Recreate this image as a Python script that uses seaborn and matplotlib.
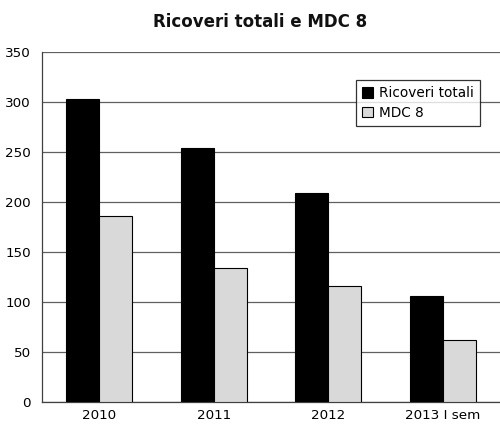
import matplotlib
matplotlib.use("Agg")
import matplotlib.pyplot as plt
import seaborn as sns
import pandas as pd
from matplotlib.patches import Patch

periodi = ["2010", "2011", "2012", "2013 I sem"]
ricoveri_totali = [303, 254, 209, 106]
mdc_8 = [186, 134, 116, 62]
serie = ["Ricoveri totali", "MDC 8"]
colori = ["#000000", "#d9d9d9"]
yticks = [0, 50, 100, 150, 200, 250, 300, 350]

df = pd.DataFrame({
    "periodo": periodi * 2,
    "valore": ricoveri_totali + mdc_8,
    "serie": [serie[0]] * len(periodi) + [serie[1]] * len(periodi),
})

sns.set_theme(style="white")
plt.rcParams["font.family"] = ["DejaVu Sans"]

fig = plt.figure(figsize=(5.0, 4.26), dpi=100)
ax = fig.add_axes([0.084, 0.056, 0.916, 0.822])

sns.barplot(data=df, x="periodo", y="valore", hue="serie", hue_order=serie,
            palette=colori, width=0.58, edgecolor="black", linewidth=0.8,
            ax=ax, legend=False, zorder=3)

ax.set_ylim(0, 350)
ax.set_xlim(-0.5, 3.5)
ax.set_yticks(yticks)
ax.set_yticklabels([str(t) for t in yticks], fontsize=9.7, color="black")
ax.set_xticks([0, 1, 2, 3])
ax.set_xticklabels(periodi, fontsize=9.7, color="black")
ax.set_xticks([0.5, 1.5, 2.5], minor=True)
ax.tick_params(axis="x", which="major", length=0, pad=5)
ax.tick_params(axis="x", which="minor", length=5, width=0.8, color="#404040", direction="out")
ax.tick_params(axis="y", length=5, width=0.8, color="#404040", direction="out", pad=3)
ax.set_xlabel("")
ax.set_ylabel("")

ax.yaxis.grid(True, color="#606060", linewidth=0.9, zorder=0)
ax.set_axisbelow(True)
for side in ["top", "right"]:
    ax.spines[side].set_visible(False)
for side in ["left", "bottom"]:
    ax.spines[side].set_color("#404040")
    ax.spines[side].set_linewidth(0.9)

handles = [Patch(facecolor=c, edgecolor="black", linewidth=0.8, label=s)
           for c, s in zip(colori, serie)]
leg = ax.legend(handles=handles, loc="upper left", bbox_to_anchor=(0.686, 0.920),
                fontsize=9.8, frameon=True, fancybox=False, borderpad=0.45,
                handlelength=0.8, handleheight=0.8, handletextpad=0.45,
                labelspacing=0.4, borderaxespad=0, labelcolor="black")
leg.get_frame().set_edgecolor("black")
leg.get_frame().set_linewidth(0.9)
leg.set_zorder(5)

fig.text(0.52, 0.948, "Ricoveri totali e MDC 8", ha="center", va="center",
         fontsize=12, fontweight="bold", color="#111111")

fig.savefig("out.png", dpi=100, facecolor="white")
